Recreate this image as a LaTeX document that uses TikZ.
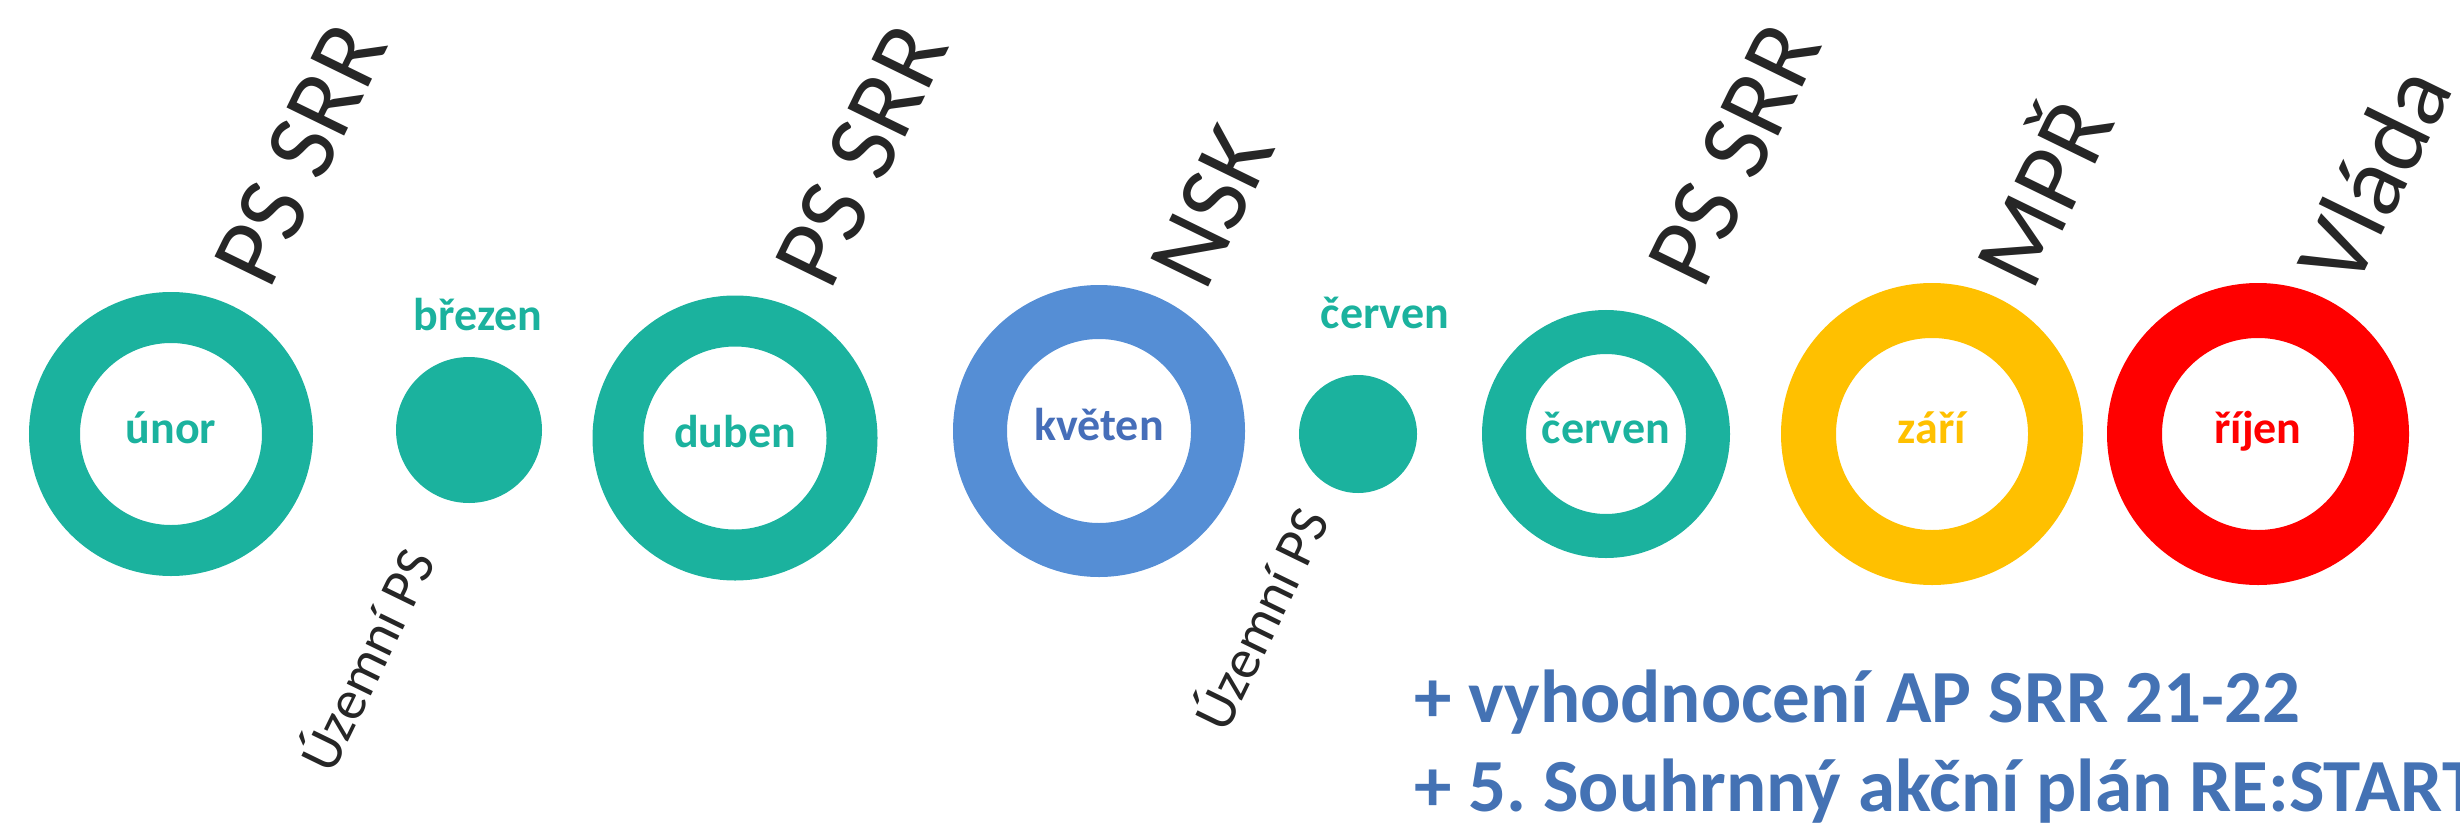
\documentclass[tikz,border=0pt]{standalone}
\usepackage{fontspec}
\setmainfont{Carlito}
\definecolor{srrteal}{RGB}{27,178,158}
\definecolor{nskblue}{RGB}{85,142,213}
\definecolor{nsktext}{RGB}{70,110,185}
\definecolor{notetext}{RGB}{68,114,180}
\definecolor{mprgold}{RGB}{255,192,0}
\definecolor{vladared}{RGB}{255,0,0}
\definecolor{darktext}{RGB}{38,38,38}
\tikzset{
    ring/.style={circle,draw=#1,text=#1,inner sep=0pt,text height=18pt,text depth=0pt,
        font=\fontsize{46}{50}\selectfont\bfseries},
    dot/.style={circle,fill=srrteal,inner sep=0pt},
    dotlabel/.style={anchor=base,inner sep=0pt,text=srrteal,font=\fontsize{46}{50}\selectfont\bfseries},
    who/.style={rotate=64,anchor=base west,inner sep=0pt,text=darktext,font=\fontsize{100}{100}\selectfont},
    uzemni/.style={rotate=64,anchor=base west,inner sep=0pt,text=darktext,font=\fontsize{56}{56}\selectfont},
    note/.style={anchor=base west,inner sep=0pt,text=notetext,font=\fontsize{75}{80}\selectfont\bfseries}
}
\begin{document}
\begin{tikzpicture}[x=1pt,y=-1pt]
    \useasboundingbox (0,0) rectangle (2460,827);
    \clip (0,0) rectangle (2460,827);
    % months
    \node[ring=srrteal,minimum size=233,line width=51] (unor) at (171,434) {únor};
    \node[dot,minimum size=146] (brezen) at (469,430) {};
    \node[ring=srrteal,minimum size=234,line width=51] (duben) at (735,438) {duben};
    \node[ring=nskblue,text=nsktext,minimum size=238,line width=54] (kveten) at (1099,431) {květen};
    \node[dot,minimum size=118] (cerven) at (1358,434) {};
    \node[ring=srrteal,minimum size=204,line width=44] (cervenb) at (1606,434) {červen};
    \node[ring=mprgold,minimum size=247,line width=55] (zari) at (1932,434) {září};
    \node[ring=vladared,minimum size=247,line width=55] (rijen) at (2258,434) {říjen};
    \node[dotlabel] (brezenlab) at (478,330) {březen};
    \node[dotlabel] (cervenlab) at (1385,328) {červen};
    % who decides
    \node[who] (srra) at (269,292) {PS SRR};
    \node[who] (srrb) at (830,293) {PS SRR};
    \node[who] (nsk) at (1205,294) {NSK};
    \node[who] (srrc) at (1703,292) {PS SRR};
    \node[who] (mpr) at (2032,294) {MPŘ};
    \node[who] (vlada) at (2354,293) {Vláda};
    \node[uzemni] (uzemnia) at (332,776) {Územní PS};
    \node[uzemni] (uzemnib) at (1226,735) {Územní PS};
    % notes
    \node[note] (vyhod) at (1414,722) {+ vyhodnocení AP SRR 21-22};
    \node[note] (akcni) at (1414,811) {+ 5.\ Souhrnný akční plán RE:START};
\end{tikzpicture}
\end{document}
